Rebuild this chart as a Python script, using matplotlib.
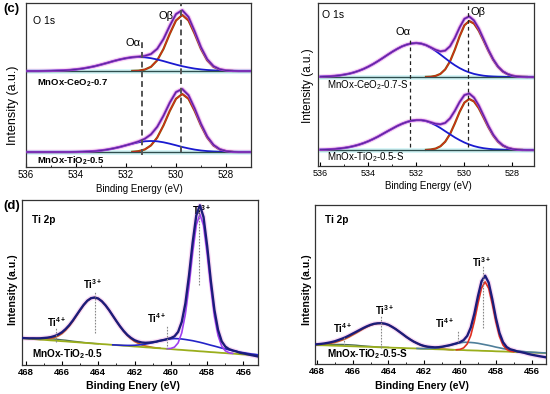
import numpy as np
import matplotlib
matplotlib.use("Agg")
import matplotlib.pyplot as plt
from matplotlib.ticker import MultipleLocator

plt.rcParams['font.family'] = ['Liberation Sans', 'DejaVu Sans']
plt.rcParams['mathtext.fontset'] = 'custom'
plt.rcParams['mathtext.rm'] = 'Liberation Sans'
plt.rcParams['mathtext.it'] = 'Liberation Sans:italic'
plt.rcParams['mathtext.bf'] = 'Liberation Sans:bold'

# ---------------- O 1s, fresh samples (c, left) ----------------
E_cl = [536.0, 535.75, 535.5, 535.25, 535.0, 534.75, 534.5, 534.25, 534.0, 533.75,
        533.5, 533.25, 533.0, 532.75, 532.5, 532.25, 532.0, 531.75, 531.5, 531.25,
        531.0, 530.75, 530.5, 530.25, 530.0, 529.75, 529.5, 529.25, 529.0, 528.75,
        528.5, 528.25, 528.0, 527.75, 527.5, 527.25, 527.0]
off_ce07 = 96
ce07_env = [0, 0, 0, 0.1, 0.2, 0.4, 0.6, 1.0, 1.6, 2.4, 3.5, 4.8, 6.4, 8.1, 9.9, 11.5, 12.8,
            13.8, 14.35, 15.1, 17.0, 22.2, 32.0, 45.2, 56.9, 60.8, 54.0, 39.5, 23.7, 11.7,
            4.8, 1.8, 0.55, 0.2, 0, 0, 0]
ce07_oa = [0, 0, 0, 0.1, 0.2, 0.4, 0.6, 1.0, 1.6, 2.4, 3.5, 4.8, 6.4, 8.1, 9.9, 11.5, 12.8,
           13.7, 14.0, 13.7, 12.8, 11.5, 9.9, 8.1, 6.4, 4.8, 3.5, 2.4, 1.6, 1.0, 0.6, 0.4,
           0.2, 0.1, 0, 0, 0]
ce07_ob = [0] * 17 + [0.1, 0.35, 1.4, 4.2, 10.7, 22.1, 37.1, 50.5, 56, 50.5, 37.1, 22.1,
                      10.7, 4.2, 1.4, 0.35, 0.1, 0, 0, 0]
off_ti05 = 15
ti05_env = [0] * 8 + [0.1, 0.25, 0.5, 0.9, 1.5, 2.4, 3.6, 5.0, 6.7, 8.5, 10.5, 13.2, 17.6,
                      25.2, 36.3, 49.3, 59.9, 63.0, 56.8, 43.4, 28.1, 15.4, 7.1, 2.75, 0.9,
                      0.2, 0, 0, 0]
ti05_oa = [0] * 8 + [0.1, 0.25, 0.5, 0.9, 1.5, 2.4, 3.6, 5.0, 6.7, 8.3, 9.7, 10.7, 11, 10.7,
                     9.7, 8.3, 6.7, 5.0, 3.6, 2.4, 1.5, 0.9, 0.5, 0.25, 0.1, 0, 0, 0, 0]
ti05_ob = [0] * 17 + [0.2, 0.8, 2.5, 6.6, 14.5, 26.6, 41.0, 53.2, 58, 53.2, 41.0, 26.6,
                      14.5, 6.6, 2.5, 0.8, 0.2, 0, 0, 0]
oa_cl, ob_cl = 531.35, 529.8

# ---------------- O 1s, used samples (c, right) ----------------
E_cr = [536.0, 535.8, 535.6, 535.4, 535.2, 535.0, 534.8, 534.6, 534.4, 534.2, 534.0,
        533.8, 533.6, 533.4, 533.2, 533.0, 532.8, 532.6, 532.4, 532.2, 532.0, 531.8,
        531.6, 531.4, 531.2, 531.0, 530.8, 530.6, 530.4, 530.2, 530.0, 529.8, 529.6,
        529.4, 529.2, 529.0, 528.8, 528.6, 528.4, 528.2, 528.0, 527.8, 527.6, 527.4,
        527.2, 527.0]
off_ce07s = 89
ce07s_env = [0.3, 0.5, 0.7, 1.1, 1.6, 2.4, 3.3, 4.6, 6.2, 8.1, 10.4, 13.0, 15.9, 19.0, 22.2,
             25.3, 28.1, 30.6, 32.4, 33.6, 34.0, 33.4, 31.9, 29.6, 27.2, 25.6, 26.4, 30.7,
             39.0, 49.5, 58.2, 60.6, 56.5, 48.4, 37.8, 27.1, 17.7, 10.5, 5.7, 2.9, 1.25,
             0.5, 0.2, 0.06, 0, 0]
ce07s_oa = [0.3, 0.5, 0.7, 1.1, 1.6, 2.4, 3.3, 4.6, 6.2, 8.1, 10.4, 13.0, 15.9, 19.0, 22.2,
            25.3, 28.1, 30.6, 32.4, 33.6, 34.0, 33.4, 31.8, 29.3, 26.1, 22.5, 18.8, 15.1,
            11.8, 8.9, 6.5, 4.6, 3.1, 2.1, 1.3, 0.8, 0.5, 0.3, 0.2, 0.1, 0.05, 0, 0, 0, 0, 0]
ce07s_ob = [0] * 22 + [0.1, 0.3, 1.1, 3.1, 7.6, 15.6, 27.2, 40.6, 51.7, 56, 53.4, 46.3,
                       36.5, 26.3, 17.2, 10.2, 5.5, 2.8, 1.2, 0.5, 0.2, 0.06, 0, 0]
off_ti05s = 16
ti05s_env = [0.3, 0.4, 0.7, 1.0, 1.5, 2.1, 2.9, 4.0, 5.3, 6.9, 8.8, 11.0, 13.4, 16.1, 18.8,
             21.4, 24.0, 26.2, 28.0, 29.3, 29.9, 29.9, 29.1, 27.7, 26.2, 25.7, 27.1, 31.6,
             39.1, 48.0, 54.9, 56.5, 52.4, 44.5, 34.3, 24.1, 15.3, 8.9, 4.7, 2.25, 1.0,
             0.35, 0.1, 0, 0, 0]
ti05s_oa = [0.3, 0.4, 0.7, 1.0, 1.5, 2.1, 2.9, 4.0, 5.3, 6.9, 8.8, 11.0, 13.4, 16.1, 18.8,
            21.4, 24.0, 26.2, 28.0, 29.3, 29.9, 29.9, 29.0, 27.2, 24.8, 22.0, 18.8, 15.7,
            12.6, 9.9, 7.5, 5.5, 3.9, 2.7, 1.8, 1.2, 0.7, 0.5, 0.3, 0.15, 0.1, 0.05, 0, 0, 0, 0]
ti05s_ob = [0] * 22 + [0.1, 0.5, 1.4, 3.7, 8.3, 15.9, 26.5, 38.1, 47.4, 51, 48.5, 41.8,
                       32.5, 22.9, 14.6, 8.4, 4.4, 2.1, 0.9, 0.3, 0.1, 0, 0, 0]
oa_cr, ob_cr = 532.25, 529.85

# ---------------- Ti 2p (d) ----------------
E_d = [468.2, 468.0, 467.8, 467.6, 467.4, 467.2, 467.0, 466.8, 466.6, 466.4, 466.2, 466.0,
       465.8, 465.6, 465.4, 465.2, 465.0, 464.8, 464.6, 464.4, 464.2, 464.0, 463.8, 463.6,
       463.4, 463.2, 463.0, 462.8, 462.6, 462.4, 462.2, 462.0, 461.8, 461.6, 461.4, 461.2,
       461.0, 460.8, 460.6, 460.4, 460.2, 460.0, 459.8, 459.6, 459.4, 459.2, 459.0, 458.8,
       458.6, 458.4, 458.2, 458.0, 457.8, 457.6, 457.4, 457.2, 457.0, 456.8, 456.6, 456.4,
       456.2, 456.0, 455.8, 455.6, 455.4, 455.2]

bg_dl = [26.8, 26.5, 26.2, 26.0, 25.7, 25.4, 25.2, 24.9, 24.6, 24.4, 24.1, 23.8, 23.6, 23.3,
         23.0, 22.8, 22.5, 22.2, 22.0, 21.7, 21.4, 21.2, 20.9, 20.7, 20.4, 20.1, 19.9, 19.6,
         19.3, 19.1, 18.8, 18.5, 18.3, 18.0, 17.7, 17.5, 17.2, 16.9, 16.7, 16.4, 16.1, 15.9,
         15.6, 15.3, 15.1, 14.8, 14.5, 14.3, 14.0, 13.7, 13.5, 13.2, 12.9, 12.7, 12.4, 12.1,
         11.9, 11.6, 11.4, 11.1, 10.8, 10.6, 10.3, 10.0, 9.8, 9.5]
env_dl = [0.2, 0.3, 0.45, 0.7, 0.95, 1.3, 1.8, 2.45, 3.35, 4.6, 6.45, 8.95, 12.3, 16.5, 21.5,
          27.0, 32.65, 38.0, 42.3, 45.1, 46.1, 45.25, 42.8, 39.0, 34.4, 29.25, 24.0, 19.1,
          14.75, 11.0, 8.3, 6.3, 5.1, 4.5, 4.5, 4.9, 5.6, 6.5, 7.6, 8.6, 9.8, 11.0, 13.1,
          17.8, 28.0, 46.8, 75.1, 108.2, 135.6, 146.0, 134.4, 105.8, 71.6, 42.3, 22.6, 11.6,
          6.5, 4.3, 3.2, 2.5, 1.5, 1.0, 0.5, 0.0, -0.5, -1.0]
ti3a_dl = [0, 0, 0, 0.1, 0.15, 0.3, 0.6, 1.1, 1.9, 3.1, 5.0, 7.6, 11.1, 15.5, 20.7, 26.4,
           32.2, 37.7, 42.1, 45.0, 46, 45.2, 42.8, 39.0, 34.4, 29.2, 23.9, 18.9, 14.4, 10.5,
           7.5, 5.1, 3.4, 2.1, 1.3, 0.8, 0.4, 0.2, 0.1, 0] + [0] * 26
ti4a_dl = [0.2, 0.3, 0.45, 0.6, 0.8, 1.0, 1.2, 1.35, 1.45, 1.5, 1.45, 1.35, 1.2, 1.0, 0.8,
           0.6, 0.45, 0.3, 0.2, 0.1, 0.1, 0.05] + [0] * 44
ti4b_dl = [0] * 25 + [0.05, 0.1, 0.2, 0.35, 0.5, 0.8, 1.2, 1.7, 2.4, 3.2, 4.1, 5.2, 6.3, 7.5,
                      8.6, 9.6, 10.3, 10.8, 11.0, 10.9, 10.7, 10.4, 10.0, 9.5, 9.0, 8.3, 7.6,
                      6.9, 6.2, 5.5, 4.8, 4.2, 3.6, 3.0, 2.5, 2.1, 1.7, 1.4, 1.1, 0.9, 0.7]
ti3b_dl = [0] * 40 + [0.2, 0.7, 2.3, 6.8, 17.1, 36.1, 64.7, 98.2, 126.1, 137, 126.1, 98.2,
                      64.7, 36.1, 17.1, 6.8, 2.3, 0.7, 0.2] + [0] * 7

bg_dr = [19.1, 18.9, 18.8, 18.7, 18.6, 18.4, 18.3, 18.2, 18.1, 17.9, 17.8, 17.7, 17.6, 17.4,
         17.3, 17.2, 17.1, 17.0, 16.8, 16.7, 16.6, 16.5, 16.3, 16.2, 16.1, 16.0, 15.8, 15.7,
         15.6, 15.5, 15.3, 15.2, 15.1, 15.0, 14.8, 14.7, 14.6, 14.5, 14.3, 14.2, 14.1, 14.0,
         13.9, 13.7, 13.6, 13.5, 13.4, 13.2, 13.1, 13.0, 12.9, 12.7, 12.6, 12.5, 12.4, 12.2,
         12.1, 12.0, 11.9, 11.7, 11.6, 11.5, 11.4, 11.2, 11.1, 11.0]
env_dr = [0.5, 0.8, 1.25, 1.8, 2.5, 3.4, 4.4, 5.75, 7.15, 8.8, 10.65, 12.65, 14.6, 16.7, 18.7,
          20.5, 22.05, 23.2, 23.9, 24.1, 23.7, 22.65, 20.9, 18.8, 16.3, 13.8, 11.3, 9.0, 6.9,
          5.25, 3.8, 2.8, 2.2, 1.9, 1.85, 2.1, 2.7, 3.5, 4.4, 5.45, 6.55, 7.85, 10.0, 14.4,
          22.9, 37.0, 54.4, 69.5, 75.2, 68.3, 52.0, 33.5, 18.6, 9.3, 4.6, 2.55, 1.65, 0.5,
          0.0, -0.6, -1.5, -2.2, -2.8, -3.3, -3.8, -4.3]
ti3a_dr = [0.3, 0.5, 0.8, 1.2, 1.7, 2.4, 3.2, 4.4, 5.7, 7.3, 9.2, 11.3, 13.4, 15.7, 17.9,
           19.9, 21.6, 22.9, 23.7, 24.0, 23.6, 22.6, 20.9, 18.8, 16.3, 13.8, 11.3, 9.0, 6.9,
           5.2, 3.7, 2.6, 1.8, 1.2, 0.75, 0.5, 0.3, 0.2, 0.1, 0.05] + [0] * 26
ti4a_dr = [0.2, 0.3, 0.45, 0.6, 0.8, 1.0, 1.2, 1.35, 1.45, 1.5, 1.45, 1.35, 1.2, 1.0, 0.8,
           0.6, 0.45, 0.3, 0.2, 0.1, 0.1, 0.05] + [0] * 44
ti4b_dr = [0] * 29 + [0.05, 0.1, 0.2, 0.4, 0.7, 1.1, 1.6, 2.4, 3.3, 4.3, 5.4, 6.4, 7.2, 7.8,
                      8.0, 7.9, 7.7, 7.3, 6.8, 6.2, 5.6, 4.9, 4.2, 3.6, 2.9, 2.4, 1.9, 1.5,
                      1.1, 0.8, 0.6, 0.4, 0.3, 0.2, 0.15, 0.1, 0.07]
ti3b_dr = [0] * 40 + [0.15, 0.65, 2.2, 6.4, 15.0, 29.3, 47.1, 62.7, 69, 62.7, 47.1, 29.3,
                      15.0, 6.4, 2.2, 0.65, 0.15] + [0] * 9

# peak markers: (energy, y from, y to)
marks_dl = [(466.3, 23, 37), (464.2, 32, 73), (460.2, 16, 39), (458.45, 80, 157)]
marks_dr = [(466.5, 19, 27), (464.4, 16, 49), (460.1, 22, 33), (458.7, 36, 99)]

# ------------------------------------------------------------------
fig = plt.figure(figsize=(5.5, 3.94), dpi=100)
W, H = 550.0, 394.0


def px_axes(x0, y0, x1, y1):
    return fig.add_axes([x0 / W, 1 - y1 / H, (x1 - x0) / W, (y1 - y0) / H])


def ftext(x, y, s, **kw):
    fig.text(x / W, 1 - y / H, s, **kw)


def style(ax, xlim, ylim, size, bold=False):
    ax.set_xlim(*xlim)
    ax.set_ylim(*ylim)
    ax.xaxis.set_major_locator(MultipleLocator(2))
    ax.xaxis.set_minor_locator(MultipleLocator(1))
    ax.tick_params(axis='x', which='major', direction='in', length=3, width=0.8,
                   labelsize=size, pad=2)
    ax.tick_params(axis='x', which='minor', direction='in', length=1.8, width=0.6)
    ax.tick_params(axis='y', which='both', left=False, labelleft=False)
    for s in ax.spines.values():
        s.set_linewidth(0.9)
        s.set_color('#333333')
    if bold:
        for lab in ax.get_xticklabels():
            lab.set_fontweight('bold')


def on(base, comp):
    # component drawn on its baseline, only where it has intensity
    comp = np.array(comp, dtype=float)
    return np.where(comp > 0, base + comp, np.nan)


def o1s(ax, E, off, env, oa, ob):
    E = np.array(E)
    env = np.array(env)
    ax.plot(E, off + env, color='#f9daf4', lw=3.5, zorder=1)
    ax.plot([E[0], E[-1]], [off, off], color='#d6f6f8', lw=3.5, zorder=1)
    ax.plot(E, on(off, ob), color='#8a5a00', lw=1.6, zorder=2)
    ax.plot(E, on(off, ob), color='#e02020', lw=0.7, zorder=2)
    ax.plot(E, on(off, oa), color='#1a1ad0', lw=1.3, zorder=3)
    ax.plot([E[0], E[-1]], [off, off], color='#2f4f4f', lw=1.0, zorder=3)
    ax.plot(E, off + env, color='#a040d0', lw=1.8, zorder=4)
    ax.plot(E, off + env, color='#4a2090', lw=0.6, zorder=4)


# (c) left
ax1 = px_axes(26, 3, 251, 167)
style(ax1, (536, 527), (0, 164), 7)
o1s(ax1, E_cl, off_ce07, ce07_env, ce07_oa, ce07_ob)
o1s(ax1, E_cl, off_ti05, ti05_env, ti05_oa, ti05_ob)
ax1.plot([oa_cl, oa_cl], [12, 127], ls=(0, (3, 2)), color='#555555', lw=1.4, zorder=5)
ax1.plot([ob_cl, ob_cl], [15, 164], ls=(0, (3, 2)), color='#555555', lw=1.4, zorder=5)

# (c) right
ax2 = px_axes(318, 3, 534, 166)
style(ax2, (536.1, 527.1), (0, 163), 6.5)
o1s(ax2, E_cr, off_ce07s, ce07s_env, ce07s_oa, ce07s_ob)
o1s(ax2, E_cr, off_ti05s, ti05s_env, ti05s_oa, ti05s_ob)
ax2.plot([oa_cr, oa_cr], [19, 129], ls=(0, (3, 2.5)), color='#222222', lw=0.9, zorder=5)
ax2.plot([ob_cr, ob_cr], [19, 161], ls=(0, (3, 2.5)), color='#222222', lw=0.9, zorder=5)


def ti2p(ax, E, bg, env, t3a, t4a, t4b, t3b, c4b, c3b, marks):
    E = np.array(E)
    bg = np.array(bg)
    ax.plot(E, bg + np.array(env), color='#f9daf4', lw=3.5, zorder=1)
    ax.plot(E, on(bg, t4a), color='#4a6a5a', lw=1.0, zorder=2)
    ax.plot(E, on(bg, t3a), color='#d06020', lw=1.2, zorder=2)
    ax.plot(E, bg, color='#9aae1c', lw=1.3, zorder=2.5)
    ax.plot(E, on(bg, t4b), color=c4b, lw=1.2, zorder=3)
    ax.plot(E, on(bg, t3b), color=c3b, lw=1.2, zorder=3)
    ax.plot(E, bg + np.array(env), color='#1c1c7a', lw=1.7, zorder=4)
    for e, y0, y1 in marks:
        ax.plot([e, e], [y0, y1], ls=(0, (1.5, 1.2)), color='#888888', lw=0.8, zorder=5)


# (d) left
ax3 = px_axes(22, 200, 258, 365)
style(ax3, (468.2, 455.2), (0, 165), 6.8, bold=True)
ti2p(ax3, E_d, bg_dl, env_dl, ti3a_dl, ti4a_dl, ti4b_dl, ti3b_dl, '#2424c8', '#a040f0', marks_dl)
ax3.text(458.3, 155, r'Ti$^{\mathbf{3+}}$', fontsize=7, fontweight='bold', ha='center',
         va='center', zorder=1)

# (d) right
ax4 = px_axes(315, 205, 546, 364)
style(ax4, (468.1, 455.2), (0, 159), 6.8, bold=True)
ti2p(ax4, E_d, bg_dr, env_dr, ti3a_dr, ti4a_dr, ti4b_dr, ti3b_dr, '#4f7f9a', '#e03020', marks_dr)

# ---------------- text ----------------
ftext(3, 9, '(c)', fontsize=9.5, fontweight='bold', va='center')
ftext(3, 206, '(d)', fontsize=9.5, fontweight='bold', va='center')

ftext(33, 21, 'O 1s', fontsize=7.5, va='center')
ftext(133, 43, 'Oα', fontsize=8, ha='center', va='center')
ftext(166, 16, 'Oβ', fontsize=8, ha='center', va='center')
ftext(37, 83, r'MnOx-CeO$_\mathbf{2}$-0.7', fontsize=6.8, fontweight='bold', va='center')
ftext(37, 161, r'MnOx-TiO$_\mathbf{2}$-0.5', fontsize=6.8, fontweight='bold', va='center')
ftext(13, 105, 'Intensity (a.u.)', fontsize=9, rotation=90, ha='center', va='center')
ftext(139, 189, 'Binding Energy (eV)', fontsize=7, ha='center', va='center')

ftext(322, 15, 'O 1s', fontsize=7.5, va='center')
ftext(403, 32, 'Oα', fontsize=8, ha='center', va='center')
ftext(478, 12, 'Oβ', fontsize=8, ha='center', va='center')
ftext(327, 85, r'MnOx-CeO$_2$-0.7-S', fontsize=7, va='center')
ftext(327, 157, r'MnOx-TiO$_2$-0.5-S', fontsize=7, va='center')
ftext(308, 86, 'Intensity (a.u.)', fontsize=8.5, rotation=90, ha='center', va='center')
ftext(428, 186, 'Binding Energy (eV)', fontsize=7, ha='center', va='center')

bt = dict(fontweight='bold', va='center')
ftext(32, 220, 'Ti 2p', fontsize=7.2, **bt)
ftext(93, 284, r'Ti$^{\mathbf{3+}}$', fontsize=7, ha='center', **bt)
ftext(57, 322, r'Ti$^{\mathbf{4+}}$', fontsize=7, ha='center', **bt)
ftext(157, 318, r'Ti$^{\mathbf{4+}}$', fontsize=7, ha='center', **bt)
ftext(32, 354, r'MnOx-TiO$_\mathbf{2}$-0.5', fontsize=7.2, **bt)
ftext(13, 290, 'Intensity (a.u.)', fontsize=7.5, rotation=90, ha='center', **bt)
ftext(133, 386, 'Binding Enery (eV)', fontsize=7.6, ha='center', **bt)

ftext(325, 220, 'Ti 2p', fontsize=7.2, **bt)
ftext(385, 310, r'Ti$^{\mathbf{3+}}$', fontsize=7, ha='center', **bt)
ftext(482, 262, r'Ti$^{\mathbf{3+}}$', fontsize=7, ha='center', **bt)
ftext(343, 328, r'Ti$^{\mathbf{4+}}$', fontsize=7, ha='center', **bt)
ftext(445, 323, r'Ti$^{\mathbf{4+}}$', fontsize=7, ha='center', **bt)
ftext(327, 354, r'MnOx-TiO$_\mathbf{2}$-0.5-S', fontsize=7.2, **bt)
ftext(307, 290, 'Intensity (a.u.)', fontsize=7.5, rotation=90, ha='center', **bt)
ftext(422, 386, 'Binding Enery (eV)', fontsize=7.6, ha='center', **bt)

fig.savefig('out.png', dpi=100)
